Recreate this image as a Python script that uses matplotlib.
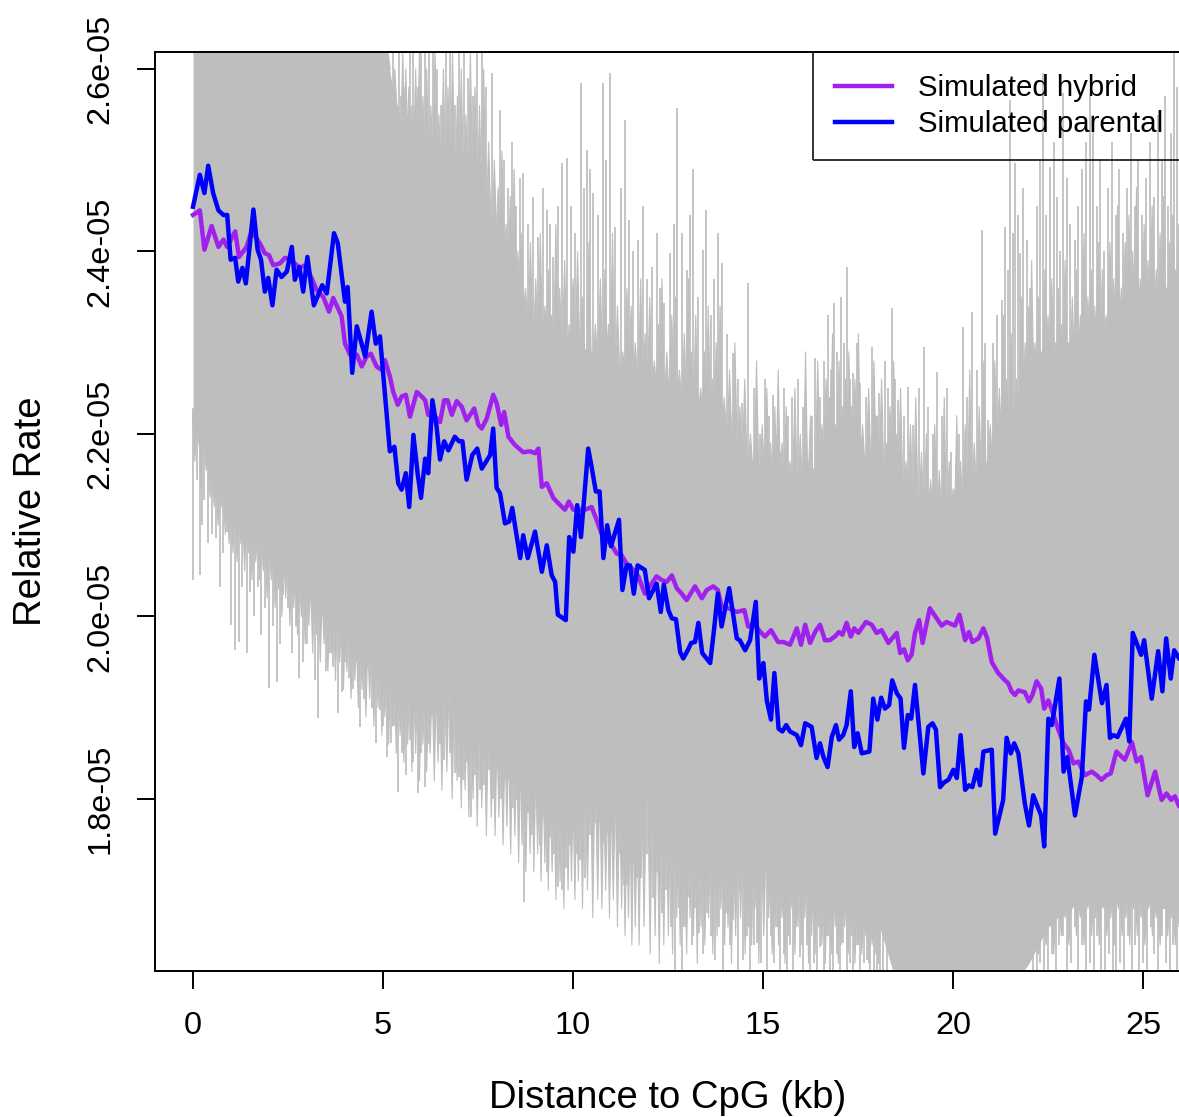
import numpy as np
import matplotlib
matplotlib.use("Agg")
import matplotlib.pyplot as plt
from matplotlib.collections import PolyCollection

plt.rcParams['font.family'] = ['Liberation Sans', 'DejaVu Sans']

# rates are stored in units of 1e-05
SCALE = 1e-5

# simulated parental rate along distance (kb)
parental_kb = [
    0.00, 0.18, 0.30, 0.40, 0.53, 0.67, 0.80, 0.90, 0.99, 1.11,
    1.19, 1.30, 1.39, 1.59, 1.70, 1.79, 1.89, 1.98, 2.09, 2.20,
    2.33, 2.47, 2.60, 2.68, 2.80, 2.90, 3.01, 3.18, 3.40, 3.52,
    3.71, 3.81, 4.00, 4.07, 4.19, 4.31, 4.53, 4.70, 4.81, 4.92,
    5.18, 5.30, 5.40, 5.49, 5.60, 5.69, 5.80, 5.91, 6.00, 6.11,
    6.19, 6.30, 6.41, 6.50, 6.61, 6.72, 6.89, 7.00, 7.09, 7.20,
    7.35, 7.48, 7.60, 7.82, 7.90, 7.99, 8.08, 8.21, 8.32, 8.40,
    8.61, 8.69, 8.81, 9.00, 9.18, 9.31, 9.44, 9.53, 9.60, 9.81,
    9.90, 10.01, 10.11, 10.21, 10.40, 10.49, 10.60, 10.70, 10.80, 10.90,
    11.00, 11.21, 11.30, 11.41, 11.50, 11.60, 11.70, 11.89, 12.00, 12.20,
    12.31, 12.39, 12.51, 12.60, 12.71, 12.82, 12.90, 13.02, 13.11, 13.21,
    13.30, 13.40, 13.61, 13.71, 13.81, 13.91, 14.11, 14.31, 14.39, 14.53,
    14.66, 14.81, 14.90, 15.01, 15.10, 15.21, 15.30, 15.41, 15.51, 15.61,
    15.71, 15.89, 16.00, 16.11, 16.28, 16.41, 16.50, 16.59, 16.70, 16.81,
    16.92, 17.00, 17.11, 17.20, 17.31, 17.40, 17.49, 17.60, 17.80, 17.90,
    18.01, 18.11, 18.21, 18.32, 18.40, 18.52, 18.62, 18.71, 18.81, 18.90,
    19.00, 19.22, 19.35, 19.46, 19.55, 19.66, 19.76, 19.88, 20.01, 20.10,
    20.20, 20.32, 20.42, 20.51, 20.62, 20.71, 20.80, 21.02, 21.11, 21.32,
    21.41, 21.52, 21.61, 21.72, 21.89, 22.00, 22.11, 22.32, 22.40, 22.51,
    22.60, 22.80, 22.91, 23.01, 23.21, 23.39, 23.50, 23.58, 23.72, 23.92,
    24.04, 24.13, 24.22, 24.33, 24.55, 24.64, 24.73, 24.83, 24.95, 25.03,
    25.23, 25.40, 25.51, 25.61, 25.73, 25.82, 25.95, 26.05,
]
parental_rate = [
    2.449, 2.484, 2.464, 2.494, 2.464, 2.445, 2.440, 2.440, 2.391, 2.393,
    2.367, 2.382, 2.365, 2.446, 2.402, 2.391, 2.356, 2.371, 2.341, 2.380,
    2.372, 2.378, 2.405, 2.369, 2.383, 2.356, 2.394, 2.341, 2.363, 2.354,
    2.420, 2.409, 2.345, 2.361, 2.267, 2.318, 2.285, 2.334, 2.299, 2.307,
    2.181, 2.186, 2.146, 2.139, 2.157, 2.120, 2.199, 2.157, 2.130, 2.173,
    2.157, 2.237, 2.208, 2.172, 2.192, 2.182, 2.197, 2.192, 2.192, 2.150,
    2.177, 2.184, 2.162, 2.177, 2.206, 2.141, 2.135, 2.102, 2.104, 2.119,
    2.064, 2.089, 2.064, 2.093, 2.049, 2.078, 2.045, 2.038, 2.002, 1.996,
    2.087, 2.071, 2.122, 2.087, 2.184, 2.164, 2.137, 2.137, 2.064, 2.100,
    2.077, 2.106, 2.029, 2.056, 2.056, 2.025, 2.056, 2.051, 2.020, 2.036,
    2.005, 2.035, 2.007, 1.998, 1.997, 1.961, 1.954, 1.963, 1.971, 1.972,
    1.993, 1.960, 1.949, 1.985, 2.025, 1.989, 2.031, 1.976, 1.974, 1.963,
    1.974, 2.016, 1.932, 1.949, 1.908, 1.887, 1.938, 1.877, 1.874, 1.881,
    1.874, 1.870, 1.859, 1.883, 1.879, 1.845, 1.861, 1.846, 1.835, 1.868,
    1.881, 1.865, 1.870, 1.881, 1.918, 1.857, 1.872, 1.850, 1.852, 1.910,
    1.887, 1.911, 1.899, 1.903, 1.930, 1.916, 1.910, 1.856, 1.892, 1.888,
    1.925, 1.828, 1.879, 1.883, 1.876, 1.813, 1.818, 1.821, 1.832, 1.823,
    1.870, 1.810, 1.815, 1.813, 1.832, 1.815, 1.852, 1.854, 1.762, 1.799,
    1.867, 1.850, 1.861, 1.850, 1.795, 1.771, 1.804, 1.782, 1.748, 1.888,
    1.881, 1.932, 1.830, 1.846, 1.782, 1.824, 1.907, 1.898, 1.958, 1.905,
    1.925, 1.867, 1.870, 1.868, 1.888, 1.863, 1.982, 1.971, 1.958, 1.974,
    1.910, 1.962, 1.918, 1.976, 1.932, 1.963, 1.954, 1.950,
]

# simulated hybrid rate along distance (kb)
hybrid_kb = [
    0.00, 0.18, 0.30, 0.49, 0.67, 0.80, 0.90, 1.11, 1.21, 1.41,
    1.54, 1.76, 1.89, 2.00, 2.11, 2.29, 2.42, 2.55, 2.82, 2.95,
    3.12, 3.25, 3.43, 3.58, 3.69, 3.91, 4.00, 4.13, 4.31, 4.44,
    4.57, 4.68, 4.83, 4.97, 5.05, 5.18, 5.27, 5.39, 5.49, 5.60,
    5.71, 5.89, 6.02, 6.11, 6.19, 6.37, 6.50, 6.61, 6.70, 6.81,
    6.94, 7.07, 7.20, 7.40, 7.51, 7.60, 7.73, 7.90, 7.99, 8.11,
    8.19, 8.30, 8.47, 8.69, 8.87, 9.00, 9.09, 9.18, 9.31, 9.48,
    9.66, 9.79, 9.89, 10.01, 10.18, 10.32, 10.49, 10.62, 10.75, 10.89,
    11.02, 11.15, 11.28, 11.41, 11.59, 11.72, 11.89, 12.07, 12.20, 12.33,
    12.47, 12.60, 12.73, 12.86, 12.99, 13.12, 13.21, 13.39, 13.52, 13.69,
    13.81, 13.91, 14.09, 14.31, 14.51, 14.61, 14.79, 14.89, 15.05, 15.21,
    15.40, 15.54, 15.71, 15.89, 16.00, 16.11, 16.24, 16.37, 16.50, 16.63,
    16.76, 16.89, 17.00, 17.09, 17.20, 17.31, 17.40, 17.51, 17.71, 17.86,
    17.99, 18.12, 18.30, 18.52, 18.61, 18.71, 18.81, 18.91, 19.00, 19.11,
    19.20, 19.39, 19.57, 19.70, 19.83, 20.05, 20.17, 20.32, 20.42, 20.51,
    20.67, 20.80, 20.90, 21.02, 21.19, 21.37, 21.45, 21.54, 21.63, 21.72,
    21.89, 22.00, 22.09, 22.20, 22.32, 22.40, 22.51, 22.60, 22.77, 22.91,
    23.04, 23.17, 23.30, 23.47, 23.65, 23.78, 23.91, 24.04, 24.15, 24.30,
    24.52, 24.71, 24.83, 24.95, 25.12, 25.32, 25.49, 25.62, 25.74, 25.84,
    25.95, 26.05,
]
hybrid_rate = [
    2.440, 2.445, 2.402, 2.428, 2.405, 2.413, 2.405, 2.422, 2.394, 2.405,
    2.422, 2.409, 2.398, 2.396, 2.385, 2.387, 2.393, 2.391, 2.382, 2.385,
    2.371, 2.358, 2.350, 2.334, 2.349, 2.329, 2.299, 2.287, 2.287, 2.274,
    2.285, 2.288, 2.274, 2.270, 2.281, 2.263, 2.246, 2.232, 2.241, 2.243,
    2.219, 2.246, 2.241, 2.237, 2.221, 2.219, 2.213, 2.237, 2.237, 2.221,
    2.236, 2.230, 2.215, 2.228, 2.210, 2.206, 2.217, 2.243, 2.234, 2.210,
    2.224, 2.197, 2.188, 2.180, 2.181, 2.179, 2.184, 2.142, 2.146, 2.130,
    2.122, 2.117, 2.126, 2.117, 2.117, 2.117, 2.120, 2.106, 2.091, 2.084,
    2.078, 2.069, 2.067, 2.058, 2.051, 2.044, 2.025, 2.036, 2.044, 2.040,
    2.038, 2.045, 2.031, 2.025, 2.018, 2.027, 2.033, 2.020, 2.029, 2.033,
    2.029, 2.011, 2.009, 2.005, 2.007, 1.989, 1.991, 1.985, 1.978, 1.985,
    1.972, 1.972, 1.969, 1.987, 1.969, 1.991, 1.971, 1.983, 1.991, 1.974,
    1.974, 1.978, 1.983, 1.980, 1.993, 1.978, 1.987, 1.982, 1.994, 1.991,
    1.982, 1.985, 1.971, 1.982, 1.960, 1.964, 1.952, 1.958, 1.982, 1.996,
    1.971, 2.009, 1.998, 1.990, 1.994, 1.990, 2.002, 1.974, 1.983, 1.972,
    1.976, 1.987, 1.976, 1.950, 1.938, 1.930, 1.927, 1.918, 1.914, 1.919,
    1.917, 1.907, 1.914, 1.929, 1.921, 1.899, 1.908, 1.898, 1.876, 1.861,
    1.854, 1.839, 1.841, 1.826, 1.830, 1.826, 1.821, 1.826, 1.828, 1.852,
    1.843, 1.862, 1.841, 1.846, 1.804, 1.830, 1.799, 1.806, 1.799, 1.803,
    1.792, 1.800,
]

# dense core of the simulation replicates (grey band)
band_kb = np.arange(0, 26.5, 0.5)
band_top = [
    2.70, 2.70, 2.70, 2.70, 2.70, 2.70, 2.70, 2.70, 2.70, 2.70,
    2.64, 2.52, 2.50, 2.49, 2.48, 2.47, 2.42, 2.36, 2.31, 2.30,
    2.30, 2.29, 2.28, 2.27, 2.26, 2.25, 2.24, 2.23, 2.21, 2.18,
    2.16, 2.15, 2.15, 2.17, 2.19, 2.18, 2.17, 2.16, 2.13, 2.12,
    2.11, 2.14, 2.18, 2.22, 2.25, 2.27, 2.27, 2.29, 2.31, 2.33,
    2.34, 2.34, 2.33,
]
band_bottom = [
    2.22, 2.16, 2.12, 2.10, 2.08, 2.06, 2.04, 2.02, 2.00, 1.98,
    1.96, 1.94, 1.93, 1.92, 1.91, 1.89, 1.88, 1.86, 1.84, 1.83,
    1.83, 1.82, 1.81, 1.80, 1.80, 1.79, 1.78, 1.76, 1.75, 1.74,
    1.74, 1.73, 1.73, 1.72, 1.71, 1.69, 1.67, 1.60, 1.58, 1.58,
    1.58, 1.58, 1.58, 1.59, 1.62, 1.66, 1.68, 1.69, 1.69, 1.70,
    1.69, 1.68, 1.68,
]

# tall replicate excursions above the core
peak_kb = [
    5.00, 5.08, 5.17, 5.26, 5.35, 5.43, 5.48, 5.56, 5.63, 5.72,
    5.80, 5.92, 6.00, 6.10, 6.21, 6.32, 6.42, 6.53, 6.65, 6.77,
    6.90, 7.01, 7.12, 7.24, 7.36, 7.48, 7.60, 7.70, 7.87, 8.08,
    8.18, 8.29, 8.40, 8.50, 8.60, 8.68, 8.82, 8.95, 9.08, 9.20,
    9.31, 9.40, 9.48, 9.60, 9.70, 9.84, 9.95, 10.05, 10.20, 10.30,
    10.37, 10.45, 10.53, 10.65, 10.79, 10.88, 10.97, 11.10, 11.25, 11.37,
    11.47, 11.58, 11.71, 11.85, 11.95, 12.08, 12.20, 12.30, 12.39, 12.55,
    12.65, 12.74, 12.87, 13.00, 13.08, 13.16, 13.30, 13.42, 13.50, 13.62,
    13.72, 13.82, 13.92, 14.05, 14.20, 14.33, 14.45, 14.60, 14.75, 14.92,
    15.05, 15.15, 15.26, 15.36, 15.45, 15.55, 15.66, 15.76, 15.92, 16.05,
    16.20, 16.30, 16.37, 16.50, 16.60, 16.71, 16.80, 16.87, 16.96, 17.05,
    17.14, 17.21, 17.30, 17.37, 17.47, 17.55, 17.70, 17.87, 17.97, 18.05,
    18.20, 18.30, 18.39, 18.48, 18.55, 18.70, 18.82, 18.95, 19.10, 19.24,
    19.35, 19.47, 19.58, 19.70, 19.84, 19.95, 20.05, 20.15, 20.26, 20.38,
    20.50, 20.62, 20.76, 20.85, 20.92, 21.05, 21.15, 21.29, 21.37, 21.45,
    21.50, 21.57, 21.63, 21.70, 21.76, 21.85, 21.95, 22.03, 22.11, 22.20,
    22.30, 22.37, 22.46, 22.55, 22.65, 22.74, 22.82, 22.90, 23.00, 23.08,
    23.21, 23.30, 23.39, 23.50, 23.60, 23.68, 23.78, 23.88, 23.98, 24.08,
    24.18, 24.28, 24.38, 24.48, 24.58, 24.68, 24.78, 24.88, 24.98, 25.08,
    25.18, 25.30, 25.40, 25.50, 25.58, 25.66, 25.74, 25.82, 25.90, 25.97,
]
peak_rate = [
    2.65, 2.65, 2.56, 2.65, 2.48, 2.65, 2.57, 2.58, 2.55, 2.65,
    2.62, 2.58, 2.65, 2.65, 2.65, 2.65, 2.60, 2.56, 2.65, 2.65,
    2.56, 2.65, 2.65, 2.59, 2.57, 2.65, 2.65, 2.58, 2.596, 2.555,
    2.50, 2.47, 2.52, 2.45, 2.48, 2.486, 2.43, 2.46, 2.416, 2.47,
    2.445, 2.43, 2.394, 2.45, 2.497, 2.502, 2.45, 2.42, 2.585, 2.47,
    2.511, 2.49, 2.464, 2.44, 2.585, 2.50, 2.596, 2.427, 2.47, 2.544,
    2.434, 2.40, 2.413, 2.45, 2.37, 2.383, 2.42, 2.36, 2.344, 2.398,
    2.43, 2.557, 2.42, 2.38, 2.44, 2.49, 2.35, 2.402, 2.445, 2.33,
    2.37, 2.42, 2.387, 2.31, 2.289, 2.26, 2.234, 2.365, 2.25, 2.20,
    2.26, 2.22, 2.243, 2.20, 2.18, 2.25, 2.22, 2.24, 2.26, 2.23,
    2.168, 2.22, 2.283, 2.24, 2.28, 2.33, 2.27, 2.344, 2.29, 2.35,
    2.30, 2.383, 2.26, 2.267, 2.30, 2.256, 2.24, 2.295, 2.22, 2.245,
    2.28, 2.25, 2.338, 2.26, 2.237, 2.22, 2.252, 2.21, 2.25, 2.295,
    2.23, 2.20, 2.268, 2.22, 2.25, 2.18, 2.14, 2.20, 2.317, 2.24,
    2.334, 2.27, 2.424, 2.30, 2.215, 2.30, 2.33, 2.347, 2.427, 2.38,
    2.566, 2.42, 2.497, 2.44, 2.398, 2.47, 2.413, 2.36, 2.30, 2.45,
    2.50, 2.596, 2.44, 2.493, 2.52, 2.46, 2.40, 2.574, 2.48, 2.43,
    2.413, 2.45, 2.49, 2.52, 2.57, 2.55, 2.45, 2.50, 2.40, 2.47,
    2.52, 2.44, 2.49, 2.42, 2.47, 2.53, 2.45, 2.50, 2.44, 2.48,
    2.52, 2.46, 2.55, 2.50, 2.57, 2.45, 2.53, 2.65, 2.58, 2.65,
]

# shorter excursions above the core
bump_kb = [
    5.04, 5.13, 5.22, 5.31, 5.39, 5.52, 5.60, 5.68, 5.76, 5.86,
    5.96, 6.05, 6.15, 6.26, 6.37, 6.47, 6.59, 6.71, 6.83, 6.96,
    7.06, 7.18, 7.30, 7.42, 7.54, 7.65, 7.78, 7.93,
    8.03, 8.13, 8.24, 8.35, 8.45, 8.55, 8.64, 8.75, 8.88, 9.02,
    9.14, 9.26, 9.36, 9.44, 9.55, 9.65, 9.78, 9.90, 10.00, 10.12,
    10.25, 10.42, 10.59, 10.72, 10.84, 10.93, 11.04, 11.17, 11.31, 11.42,
    11.53, 11.64, 11.78, 11.90, 12.02, 12.14, 12.25, 12.34, 12.47, 12.60,
    12.70, 12.80, 12.93, 13.04, 13.12, 13.23, 13.36, 13.46, 13.56, 13.67,
    13.77, 13.87, 13.98, 14.12, 14.26, 14.39, 14.52, 14.67, 14.83, 14.98,
    15.10, 15.20, 15.31, 15.40, 15.50, 15.61, 15.71, 15.84, 15.98, 16.12,
    16.25, 16.44, 16.55, 16.66, 16.75, 16.83, 16.91, 17.00, 17.09, 17.17,
    17.26, 17.33, 17.42, 17.51, 17.62, 17.78, 17.92, 18.01, 18.12, 18.25,
    18.34, 18.44, 18.52, 18.62, 18.76, 18.88, 19.02, 19.17, 19.30, 19.41,
    19.52, 19.64, 19.77, 19.90, 20.00, 20.10, 20.20, 20.32, 20.44, 20.56,
    20.69, 20.81, 20.98, 21.10, 21.22, 21.33, 21.41, 21.53, 21.67, 21.80,
    21.90, 21.99, 22.07, 22.16, 22.25, 22.33, 22.42, 22.50, 22.60, 22.70,
    22.78, 22.86, 22.95, 23.04, 23.14, 23.25, 23.35, 23.45, 23.55, 23.64,
    23.73, 23.83, 23.93, 24.03, 24.13, 24.23, 24.33, 24.43, 24.53, 24.63,
    24.73, 24.83, 24.93, 25.03, 25.13, 25.24, 25.35, 25.45, 25.54, 25.62,
    25.70, 25.78, 25.86, 25.94,
]
bump_rate = [
    2.60, 2.62, 2.58, 2.60, 2.56, 2.62, 2.60, 2.58, 2.56, 2.60,
    2.62, 2.57, 2.60, 2.56, 2.62, 2.55, 2.60, 2.58, 2.62, 2.57,
    2.60, 2.55, 2.62, 2.58, 2.56, 2.60, 2.52, 2.50,
    2.47, 2.51, 2.43, 2.46, 2.49, 2.40, 2.42, 2.36, 2.41, 2.37,
    2.42, 2.34, 2.38, 2.33, 2.43, 2.36, 2.39, 2.32, 2.37, 2.40,
    2.35, 2.41, 2.32, 2.37, 2.38, 2.32, 2.42, 2.34, 2.29, 2.36,
    2.34, 2.30, 2.37, 2.31, 2.35, 2.28, 2.32, 2.37, 2.29, 2.33,
    2.35, 2.27, 2.31, 2.37, 2.29, 2.33, 2.25, 2.29, 2.34, 2.26,
    2.30, 2.34, 2.24, 2.27, 2.30, 2.23, 2.26, 2.20, 2.28, 2.21,
    2.25, 2.19, 2.23, 2.27, 2.19, 2.23, 2.17, 2.25, 2.20, 2.29,
    2.22, 2.28, 2.21, 2.26, 2.24, 2.31, 2.21, 2.28, 2.23, 2.26,
    2.29, 2.23, 2.26, 2.31, 2.21, 2.25, 2.28, 2.22, 2.26, 2.19,
    2.23, 2.28, 2.20, 2.25, 2.17, 2.21, 2.24, 2.18, 2.20, 2.15,
    2.21, 2.16, 2.24, 2.17, 2.14, 2.22, 2.17, 2.21, 2.27, 2.19,
    2.23, 2.28, 2.21, 2.28, 2.25, 2.33, 2.26, 2.31, 2.26, 2.35,
    2.30, 2.34, 2.39, 2.30, 2.35, 2.29, 2.38, 2.33, 2.37, 2.30,
    2.36, 2.32, 2.39, 2.30, 2.35, 2.38, 2.33, 2.42, 2.35, 2.38,
    2.34, 2.41, 2.38, 2.33, 2.41, 2.37, 2.45, 2.36, 2.41, 2.44,
    2.40, 2.47, 2.37, 2.43, 2.39, 2.45, 2.38, 2.42, 2.46, 2.36,
    2.41, 2.44, 2.38, 2.43,
]

# tall replicate excursions below the core
dip_kb = [
    0.01, 0.10, 0.18, 0.24, 0.30, 0.40, 0.51, 0.60, 0.71, 0.80,
    0.89, 1.00, 1.10, 1.21, 1.30, 1.41, 1.50, 1.60, 1.70, 1.80,
    1.89, 2.00, 2.11, 2.20, 2.30, 2.38, 2.49, 2.60, 2.70, 2.79,
    2.90, 3.00, 3.10, 3.20, 3.30, 3.40, 3.50, 3.60, 3.69, 3.81,
    3.91, 4.00, 4.10, 4.22, 4.30, 4.39, 4.50, 4.59, 4.70, 4.81,
    4.92, 5.00, 5.10, 5.20, 5.30, 5.40, 5.50, 5.60, 5.71, 5.80,
    5.91, 6.00, 6.10, 6.20, 6.28, 6.41, 6.50, 6.61, 6.75, 6.89,
    7.00, 7.11, 7.20, 7.31, 7.42, 7.55, 7.66, 7.80, 7.90, 7.99,
    8.10, 8.21, 8.30, 8.42, 8.52, 8.62, 8.71, 8.82, 8.92, 9.02,
    9.12, 9.21, 9.31, 9.39, 9.50, 9.61, 9.70, 9.82, 9.92, 10.01,
    10.10, 10.18, 10.32, 10.45, 10.58, 10.71, 10.80, 10.93, 11.00, 11.13,
    11.22, 11.34, 11.41, 11.50, 11.60, 11.68, 11.80, 11.95, 12.11, 12.22,
    12.33, 12.45, 12.57, 12.68, 12.78, 12.86, 12.95, 13.03, 13.12, 13.22,
    13.32, 13.42, 13.52, 13.63, 13.74, 13.84, 13.94, 14.04, 14.13, 14.22,
    14.35, 14.48, 14.58, 14.66, 14.75, 14.83, 14.95, 15.10, 15.20, 15.28,
    15.36, 15.45, 15.54, 15.62, 15.72, 15.80, 15.88, 15.97, 16.06, 16.15,
    16.24, 16.33, 16.42, 16.50, 16.60, 16.68, 16.77, 16.85, 16.94, 17.02,
    17.11, 17.20, 17.29, 17.38, 17.47, 17.56, 17.65, 17.73, 17.82, 17.91,
    18.00, 18.08, 18.17, 18.25, 22.10, 22.20, 22.30, 22.40, 22.50, 22.60,
    22.70, 22.80, 22.90, 23.00, 23.10, 23.20, 23.30, 23.40, 23.50, 23.60,
    23.70, 23.80, 23.90, 24.00, 24.10, 24.20, 24.30, 24.40, 24.50, 24.60,
    24.70, 24.80, 24.90, 25.00, 25.10, 25.20, 25.30, 25.40, 25.50, 25.60,
    25.70, 25.80, 25.90, 26.00,
]
dip_rate = [
    2.04, 2.15, 2.045, 2.10, 2.128, 2.08, 2.09, 2.086, 2.032, 2.07,
    2.093, 1.991, 1.963, 1.972, 2.032, 1.96, 2.027, 2.00, 2.032, 1.98,
    2.009, 1.922, 1.99, 1.928, 1.97, 2.024, 2.009, 1.96, 1.99, 1.933,
    1.95, 1.97, 2.015, 1.93, 1.889, 2.002, 1.94, 1.96, 1.945, 1.894,
    1.917, 1.95, 1.933, 1.92, 1.95, 1.879, 1.91, 1.944, 1.90, 1.861,
    1.898, 1.88, 1.846, 1.861, 1.88, 1.808, 1.85, 1.826, 1.865, 1.84,
    1.807, 1.85, 1.813, 1.86, 1.892, 1.90, 1.86, 1.843, 1.85, 1.828,
    1.824, 1.821, 1.84, 1.78, 1.826, 1.81, 1.815, 1.832, 1.80, 1.85,
    1.80, 1.823, 1.821, 1.79, 1.799, 1.81, 1.687, 1.785, 1.76, 1.81,
    1.75, 1.78, 1.72, 1.758, 1.74, 1.704, 1.70, 1.724, 1.75, 1.774,
    1.74, 1.733, 1.713, 1.76, 1.774, 1.774, 1.752, 1.763, 1.764, 1.785,
    1.74, 1.706, 1.706, 1.757, 1.73, 1.713, 1.713, 1.74, 1.691, 1.72,
    1.675, 1.70, 1.66, 1.60, 1.68, 1.60, 1.66, 1.693, 1.64, 1.68,
    1.653, 1.63, 1.675, 1.65, 1.624, 1.66, 1.60, 1.675, 1.64, 1.667,
    1.60, 1.624, 1.65, 1.60, 1.64, 1.642, 1.62, 1.60, 1.65, 1.62,
    1.66, 1.60, 1.63, 1.60, 1.64, 1.60, 1.66, 1.627, 1.60, 1.64,
    1.60, 1.62, 1.60, 1.638, 1.61, 1.65, 1.60, 1.60, 1.63, 1.60,
    1.642, 1.60, 1.62, 1.60, 1.64, 1.60, 1.62, 1.624, 1.60, 1.61,
    1.60, 1.60, 1.60, 1.60, 1.60, 1.60, 1.62, 1.60, 1.60, 1.63,
    1.60, 1.64, 1.65, 1.60, 1.62, 1.66, 1.60, 1.64, 1.60, 1.62,
    1.60, 1.65, 1.60, 1.60, 1.63, 1.60, 1.60, 1.62, 1.60, 1.65,
    1.60, 1.64, 1.60, 1.62, 1.60, 1.66, 1.63, 1.60, 1.65, 1.62,
    1.60, 1.64, 1.60, 1.62,
]

# shorter excursions below the core
sag_kb = [
    0.05, 0.14, 0.21, 0.35, 0.45, 0.56, 0.66, 0.76, 0.85, 0.95,
    1.05, 1.16, 1.26, 1.36, 1.46, 1.55, 1.65, 1.75, 1.85, 1.95,
    2.06, 2.16, 2.25, 2.34, 2.44, 2.55, 2.65, 2.75, 2.85, 2.95,
    3.05, 3.15, 3.25, 3.35, 3.45, 3.55, 3.65, 3.75, 3.86, 3.96,
    4.05, 4.16, 4.26, 4.35, 4.45, 4.55, 4.65, 4.76, 4.87, 4.97,
    5.05, 5.15, 5.25, 5.35, 5.45, 5.55, 5.65, 5.76, 5.86, 5.96,
    6.05, 6.15, 6.24, 6.35, 6.45, 6.55, 6.68, 6.82, 6.95, 7.06,
    7.16, 7.26, 7.37, 7.48, 7.60, 7.72, 7.85, 7.95, 8.05, 8.16,
    8.26, 8.36, 8.47, 8.57, 8.66, 8.76, 8.87, 8.97, 9.07, 9.16,
    9.26, 9.35, 9.45, 9.55, 9.66, 9.76, 9.87, 9.96, 10.05, 10.14,
    10.25, 10.38, 10.52, 10.65, 10.76, 10.86, 10.96, 11.06, 11.17, 11.28,
    11.37, 11.46, 11.55, 11.64, 11.74, 11.87, 12.03, 12.16, 12.27, 12.39,
    12.51, 12.62, 12.73, 12.82, 12.90, 12.99, 13.08, 13.17, 13.27, 13.37,
    13.47, 13.57, 13.68, 13.79, 13.89, 13.99, 14.08, 14.17, 14.28, 14.41,
    14.53, 14.62, 14.70, 14.79, 14.89, 15.02, 15.15, 15.24, 15.32, 15.41,
    15.50, 15.58, 15.67, 15.76, 15.84, 15.92, 16.02, 16.10, 16.20, 16.28,
    16.37, 16.46, 16.55, 16.64, 16.72, 16.81, 16.90, 16.98, 17.06, 17.15,
    17.24, 17.33, 17.42, 17.51, 17.60, 17.69, 17.78, 17.87, 17.95, 18.04,
    22.05, 22.15, 22.25, 22.35, 22.45, 22.55, 22.65, 22.75, 22.85, 22.95,
    23.05, 23.15, 23.25, 23.35, 23.45, 23.55, 23.65, 23.75, 23.85, 23.95,
    24.05, 24.15, 24.25, 24.35, 24.45, 24.55, 24.65, 24.75, 24.85, 24.95,
    25.05, 25.15, 25.25, 25.35, 25.45, 25.55, 25.65, 25.75, 25.85, 25.95,
]
sag_rate = [
    2.17, 2.19, 2.14, 2.16, 2.13, 2.12, 2.10, 2.12, 2.09, 2.08,
    2.07, 2.06, 2.08, 2.05, 2.07, 2.04, 2.06, 2.04, 2.05, 2.02,
    2.04, 2.01, 2.03, 2.00, 2.02, 1.99, 2.01, 1.98, 2.00, 1.97,
    1.99, 1.96, 1.98, 1.95, 1.97, 1.94, 1.96, 1.93, 1.95, 1.92,
    1.94, 1.91, 1.93, 1.90, 1.92, 1.89, 1.91, 1.88, 1.90, 1.87,
    1.89, 1.86, 1.88, 1.85, 1.87, 1.84, 1.86, 1.83, 1.85, 1.82,
    1.86, 1.83, 1.85, 1.82, 1.84, 1.81, 1.83, 1.80, 1.82, 1.79,
    1.81, 1.78, 1.80, 1.77, 1.79, 1.76, 1.78, 1.76, 1.78, 1.75,
    1.77, 1.74, 1.76, 1.73, 1.75, 1.72, 1.74, 1.72, 1.74, 1.71,
    1.73, 1.70, 1.72, 1.69, 1.71, 1.68, 1.70, 1.71, 1.69, 1.71,
    1.68, 1.70, 1.67, 1.69, 1.68, 1.70, 1.67, 1.69, 1.66, 1.68,
    1.65, 1.67, 1.64, 1.66, 1.64, 1.66, 1.63, 1.65, 1.62, 1.64,
    1.65, 1.63, 1.67, 1.64, 1.66, 1.63, 1.67, 1.65, 1.62, 1.66,
    1.64, 1.67, 1.63, 1.65, 1.68, 1.64, 1.66, 1.62, 1.65, 1.67,
    1.63, 1.66, 1.64, 1.68, 1.62, 1.65, 1.67, 1.63, 1.66, 1.64,
    1.67, 1.62, 1.65, 1.68, 1.63, 1.66, 1.64, 1.67, 1.62, 1.65,
    1.63, 1.66, 1.64, 1.62, 1.65, 1.63, 1.66, 1.62, 1.64, 1.66,
    1.63, 1.65, 1.62, 1.64, 1.63, 1.65, 1.62, 1.64, 1.63, 1.62,
    1.64, 1.66, 1.63, 1.67, 1.64, 1.66, 1.63, 1.68, 1.65, 1.67,
    1.64, 1.68, 1.65, 1.67, 1.64, 1.68, 1.65, 1.67, 1.64, 1.68,
    1.65, 1.67, 1.64, 1.68, 1.65, 1.67, 1.64, 1.68, 1.65, 1.67,
    1.64, 1.68, 1.65, 1.67, 1.64, 1.68, 1.65, 1.67, 1.64, 1.66,
]

x_ticks = [0, 5, 10, 15, 20, 25]
y_ticks = [1.8, 2.0, 2.2, 2.4, 2.6]
y_ticklabels = ['1.8e-05', '2.0e-05', '2.2e-05', '2.4e-05', '2.6e-05']

GREY = '#BEBEBE'
HALF_WIDTH = 0.06  # kb, half base of a short excursion


def spike_polys(xs, tips, base_curve):
    # narrow triangles rising from the core edge to each excursion value
    xs = np.asarray(xs)
    base = np.interp(xs, band_kb, base_curve)
    tips = np.asarray(tips) * SCALE
    return [[(x - HALF_WIDTH, b), (x, t), (x + HALF_WIDTH, b)]
            for x, b, t in zip(xs, base, tips)]


fig = plt.figure(figsize=(11.79, 11.17), dpi=100)
ax = fig.add_axes([155 / 1179, 1 - 971 / 1117, 1026 / 1179, 919 / 1117])

top = np.array(band_top) * SCALE
bottom = np.array(band_bottom) * SCALE
ax.fill_between(band_kb, bottom, top, color=GREY, lw=0, antialiased=False, zorder=1)

# tall excursions start a little inside the core so no seam shows
overlap = 0.01 * SCALE
ax.vlines(peak_kb, np.interp(peak_kb, band_kb, top) - overlap,
          np.array(peak_rate) * SCALE, color=GREY, lw=1.25, zorder=1)
ax.vlines(dip_kb, np.array(dip_rate) * SCALE,
          np.interp(dip_kb, band_kb, bottom) + overlap, color=GREY, lw=1.25, zorder=1)

short = spike_polys(bump_kb, bump_rate, top - overlap) + \
    spike_polys(sag_kb, sag_rate, bottom + overlap)
ax.add_collection(PolyCollection(short, facecolor=GREY, edgecolor=GREY,
                                 linewidth=0.8, zorder=1))

ax.plot(hybrid_kb, np.array(hybrid_rate) * SCALE, color='#A020F0', lw=3.2,
        label='Simulated hybrid', zorder=3)
ax.plot(parental_kb, np.array(parental_rate) * SCALE, color='#0000FF', lw=3.2,
        label='Simulated parental', zorder=4)

ax.set_xlim(-1, 26)
ax.set_ylim(1.6115e-5, 2.6186e-5)

ax.set_xticks(x_ticks)
ax.set_yticks(np.array(y_ticks) * SCALE)
ax.set_yticklabels(y_ticklabels)
ax.tick_params(axis='both', direction='out', length=13, width=1.4, labelsize=23.4)
ax.tick_params(axis='x', pad=15.5)
ax.tick_params(axis='y', pad=15.5)
for lab in ax.get_yticklabels():
    lab.set_rotation(90)
    lab.set_va('center')

for sp in ax.spines.values():
    sp.set_linewidth(1.4)

ax.set_xlabel('Distance to CpG (kb)', fontsize=27.5, labelpad=28.5)
ax.set_ylabel('Relative Rate', fontsize=27.5, labelpad=26)

leg = ax.legend(loc='upper left', bbox_to_anchor=(658 / 1026, 1.0), borderaxespad=0,
                fontsize=21.2, frameon=True, fancybox=False, edgecolor='black',
                facecolor='none', borderpad=0.75, handlelength=1.93,
                handletextpad=0.88, labelspacing=0.27)
leg.get_frame().set_linewidth(1.4)

fig.savefig('out.png', dpi=100)
